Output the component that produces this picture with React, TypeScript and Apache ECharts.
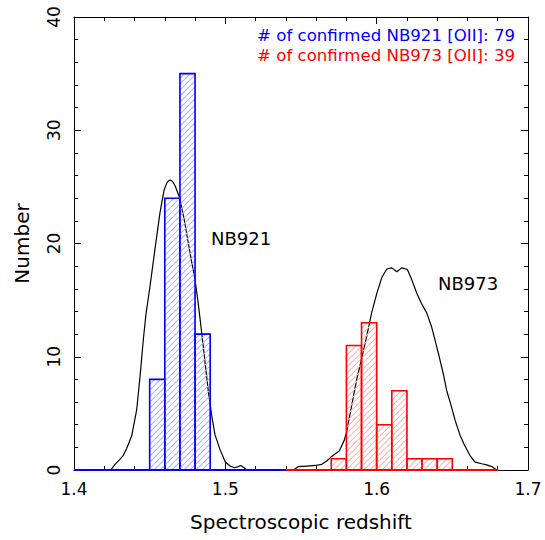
import React, { useEffect, useRef } from "react";
import * as echarts from "echarts";

const binWidth = 0.01;
const nb921BinStarts = [1.45, 1.46, 1.47, 1.48];
const nb921Counts = [8, 24, 35, 12];
const nb973BinStarts = [1.57, 1.58, 1.59, 1.6, 1.61, 1.62, 1.63, 1.64];
const nb973Counts = [1, 11, 13, 4, 7, 1, 1, 1];

const nb921Curve: number[][] = [
  [1.4243, 0], [1.4271, 0.5], [1.43, 0.9], [1.4326, 1.3], [1.4348, 1.9], [1.4381, 3.0],
  [1.4414, 5.3], [1.4436, 8.2], [1.4458, 11.5], [1.4476, 13.8], [1.4502, 16.2], [1.4535, 19.5],
  [1.4568, 22.7], [1.4595, 24.7], [1.4615, 25.4], [1.4634, 25.6], [1.465, 25.5], [1.4668, 25.1],
  [1.4696, 24.1], [1.4727, 22.2], [1.4756, 20.0], [1.478, 18.2], [1.48, 16.8], [1.4822, 14.6],
  [1.4844, 12.1], [1.4866, 9.5], [1.4888, 6.9], [1.491, 4.8], [1.4932, 3.1], [1.4965, 1.8],
  [1.5, 0.7], [1.5031, 0.35], [1.506, 0.2], [1.5085, 0.3], [1.5102, 0.4], [1.5124, 0.2], [1.514, 0],
];

const nb973Curve: number[][] = [
  [1.5449, 0], [1.5483, 0.3], [1.5538, 0.35], [1.5593, 0.4], [1.5637, 0.5], [1.567, 0.8],
  [1.5703, 1.2], [1.5754, 1.7], [1.5785, 2.6], [1.5802, 3.4], [1.5835, 5.7], [1.5868, 8.0],
  [1.5895, 9.5], [1.5934, 11.8], [1.5967, 13.9], [1.6001, 15.6], [1.6034, 17.0], [1.6067, 17.75],
  [1.61, 17.85], [1.6133, 17.5], [1.6166, 17.85], [1.6203, 17.7], [1.6232, 16.8], [1.6265, 15.6],
  [1.63, 14.6], [1.633, 13.9], [1.6364, 12.6], [1.6408, 10.3], [1.644, 8.5], [1.6463, 7.0],
  [1.649, 5.8], [1.6518, 4.4], [1.655, 3.1], [1.658, 2.2], [1.6616, 1.3], [1.665, 0.7],
  [1.6695, 0.55], [1.6727, 0.45], [1.676, 0.3], [1.6794, 0],
];

const nb921Baseline = [1.4, 1.54];
const nb973Baseline = [1.54, 1.68];

const xTicks = { min: 1.4, max: 1.7, interval: 0.1 };
const yTicks = { min: 0, max: 40, interval: 10 };

const legendLines = [
  { text: "# of confirmed NB921 [OII]: 79", color: "#0000ff" },
  { text: "# of confirmed NB973 [OII]: 39", color: "#ff0000" },
];

const FONT = "DejaVu Sans";

function hatchPoints(L: number, R: number, T: number, B: number, s: number): number[][] {
  const segs: number[][][] = [];
  for (let k = Math.ceil((L + T) / s); k <= Math.floor((R + B) / s); k++) {
    const cc = k * s;
    const xa = Math.max(L, cc - B);
    const xb = Math.min(R, cc - T);
    if (xb > xa + 0.01) segs.push([[xa, cc - xa], [xb, cc - xb]]);
  }
  const pts: number[][] = [];
  const eps = 0.01;
  for (let i = 0; i < segs.length; i++) {
    const [A, Bp] = segs[i];
    const forward = i % 2 === 0;
    const start = forward ? A : Bp;
    const end = forward ? Bp : A;
    if (i > 0) {
      const prev = pts[pts.length - 1];
      if (forward) {
        if (prev[1] < B - eps && start[0] > L + eps) pts.push([L, B]);
      } else {
        if (prev[0] < R - eps && start[1] > T + eps) pts.push([R, T]);
      }
    }
    pts.push(start, end);
  }
  return pts;
}

function histSeries(starts: number[], counts: number[], stroke: string, hatch: string) {
  const data = starts.map((s, i) => [s, s + binWidth, counts[i]]);
  return {
    type: "custom",
    z: 3,
    clip: true,
    data,
    encode: { x: [0, 1], y: 2 },
    renderItem: (params: any, api: any) => {
      const x0 = api.value(0);
      const x1 = api.value(1);
      const c = api.value(2);
      const p0 = api.coord([x0, 0]);
      const p1 = api.coord([x1, c]);
      const L = p0[0], R = p1[0], T = p1[1], B = p0[1];
      const pts = hatchPoints(L, R, T, B, 6);
      return {
        type: "group",
        children: [
          {
            type: "polyline",
            shape: { points: pts },
            style: { stroke: hatch, lineWidth: 1.1, fill: "none" },
          },
          {
            type: "rect",
            shape: { x: L, y: T, width: R - L, height: B - T },
            style: { fill: "none", stroke: stroke, lineWidth: 1.6 },
          },
        ],
      };
    },
  };
}

function lineSeries(data: number[][], color: string, width: number, z: number) {
  return {
    type: "line",
    data,
    z,
    showSymbol: false,
    symbol: "none",
    smooth: false,
    lineStyle: { color, width },
    silent: true,
  };
}

export default function App() {
  const ref = useRef<HTMLDivElement>(null);
  useEffect(() => {
    if (!ref.current) return;
    const chart = echarts.init(ref.current, undefined, { renderer: "svg" });
    const axisCommonX = {
      type: "value",
      min: xTicks.min,
      max: xTicks.max,
      interval: xTicks.interval,
      axisLine: { show: true, onZero: false, lineStyle: { color: "#000", width: 1 } },
      axisTick: { show: true, inside: true, length: 7, lineStyle: { color: "#000" } },
      minorTick: { show: true, splitNumber: 5, length: 4, lineStyle: { color: "#000" } },
      splitLine: { show: false },
    };
    const axisCommonY = {
      type: "value",
      min: yTicks.min,
      max: yTicks.max,
      interval: yTicks.interval,
      axisLine: { show: true, onZero: false, lineStyle: { color: "#000", width: 1 } },
      axisTick: { show: true, inside: true, length: 7, lineStyle: { color: "#000" } },
      minorTick: { show: true, splitNumber: 5, length: 4, lineStyle: { color: "#000" } },
      splitLine: { show: false },
    };
    chart.setOption({
      animation: false,
      backgroundColor: "#fff",
      grid: { left: 74, right: 17, top: 17, bottom: 70, containLabel: false },
      xAxis: [
        {
          ...axisCommonX,
          position: "bottom",
          axisLabel: {
            show: true,
            fontFamily: FONT,
            fontSize: 17,
            color: "#000",
            margin: 10,
            formatter: (v: number) => v.toFixed(1),
          },
          name: "Spectroscopic redshift",
          nameLocation: "middle",
          nameGap: 42,
          nameTextStyle: { fontFamily: FONT, fontSize: 20, color: "#000" },
        },
        { ...axisCommonX, position: "top", axisLabel: { show: false } },
      ],
      yAxis: [
        {
          ...axisCommonY,
          position: "left",
          axisLabel: {
            show: true,
            rotate: 90,
            fontFamily: FONT,
            fontSize: 17,
            color: "#000",
            margin: 12,
          },
          name: "Number",
          nameLocation: "middle",
          nameRotate: 90,
          nameGap: 42,
          nameTextStyle: { fontFamily: FONT, fontSize: 20, color: "#000" },
        },
        { ...axisCommonY, position: "right", axisLabel: { show: false } },
      ],
      graphic: [
        {
          type: "text",
          right: 30,
          top: 27,
          style: { text: legendLines[0].text, fill: legendLines[0].color, font: `16.6px "${FONT}"` },
        },
        {
          type: "text",
          right: 30,
          top: 47,
          style: { text: legendLines[1].text, fill: legendLines[1].color, font: `16.6px "${FONT}"` },
        },
        {
          type: "text",
          left: 211,
          top: 229,
          style: { text: "NB921", fill: "#000", font: `18px "${FONT}"` },
        },
        {
          type: "text",
          left: 438,
          top: 274,
          style: { text: "NB973", fill: "#000", font: `18px "${FONT}"` },
        },
      ],
      series: [
        lineSeries(nb921Curve, "#000", 1.2, 2),
        lineSeries(nb973Curve, "#000", 1.2, 2),
        histSeries(nb921BinStarts, nb921Counts, "#0000ff", "#b4b4ff"),
        histSeries(nb973BinStarts, nb973Counts, "#ff0000", "#ffb4b4"),
        lineSeries(nb921Baseline.map((x) => [x, 0]), "#0000ff", 2, 4),
        lineSeries(nb973Baseline.map((x) => [x, 0]), "#ff0000", 2, 4),
      ],
    });
    return () => chart.dispose();
  }, []);
  return (
    <div
      ref={ref}
      style={{ position: "fixed", left: 0, top: 0, width: 545, height: 540, background: "#fff" }}
    />
  );
}
